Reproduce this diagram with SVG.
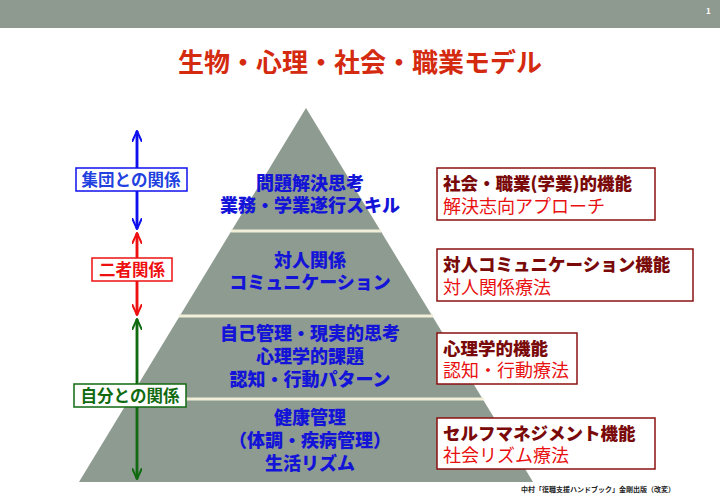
<svg xmlns="http://www.w3.org/2000/svg" width="720" height="498" viewBox="0 0 720 498">
<style>
text{font-family:"Noto Sans CJK JP","Noto Sans CJK SC",sans-serif;font-weight:bold}
.p{fill:#1414d8;font-size:18px;font-weight:900;text-anchor:middle}
.bt{fill:#7a0a0a;font-size:17.5px;font-weight:900}
.bs{fill:#e81010;font-size:18px;font-weight:normal}
.box{fill:#fff;stroke:#8b1010;stroke-width:1.5}
.div{stroke:#f2efd8;stroke-width:3}
</style>
<defs>
<marker id="ab" viewBox="0 0 12 10" refX="11" refY="5" markerWidth="12" markerHeight="10" markerUnits="userSpaceOnUse" orient="auto"><path d="M0,0 L11,5 L0,10" fill="none" stroke="#1010ee" stroke-width="2"/></marker>
<marker id="ar" viewBox="0 0 12 10" refX="11" refY="5" markerWidth="12" markerHeight="10" markerUnits="userSpaceOnUse" orient="auto"><path d="M0,0 L11,5 L0,10" fill="none" stroke="#ee1010" stroke-width="2"/></marker>
<marker id="ag" viewBox="0 0 12 10" refX="11" refY="5" markerWidth="12" markerHeight="10" markerUnits="userSpaceOnUse" orient="auto"><path d="M0,0 L11,5 L0,10" fill="none" stroke="#106a10" stroke-width="2"/></marker>
</defs>
<rect width="720" height="498" fill="#fff"/>
<rect width="720" height="28" fill="#8e9a90"/>
<text x="706" y="14" fill="#fff" font-size="8" font-weight="normal">1</text>
<text x="360" y="72" fill="#d42a10" font-size="26" font-weight="900" text-anchor="middle">生物・心理・社会・職業モデル</text>
<g id="pyramid">
<polygon points="306,108 533,482 79,482" fill="#8e9b91"/>
<line class="div" x1="231" y1="231" x2="381" y2="231"/>
<line class="div" x1="179" y1="316" x2="433" y2="316"/>
<line class="div" x1="129" y1="399" x2="484" y2="399"/>
</g>
<g id="tier1"><text class="p" x="310" y="190">問題解決思考</text><text class="p" x="310" y="212">業務・学業遂行スキル</text></g>
<g id="tier2"><text class="p" x="310" y="267">対人関係</text><text class="p" x="310" y="289">コミュニケーション</text></g>
<g id="tier3"><text class="p" x="310" y="340">自己管理・現実的思考</text><text class="p" x="310" y="363">心理学的課題</text><text class="p" x="310" y="386">認知・行動パターン</text></g>
<g id="tier4"><text class="p" x="310" y="424">健康管理</text><text class="p" x="310" y="447">（体調・疾病管理）</text><text class="p" x="310" y="470">生活リズム</text></g>
<g id="connectors" stroke-width="2.5">
<line x1="137" y1="229" x2="137" y2="131" stroke="#1010ee" marker-end="url(#ab)"/>
<line x1="137" y1="131" x2="137" y2="229" stroke="#1010ee" marker-end="url(#ab)"/>
<line x1="137" y1="315" x2="137" y2="233" stroke="#ee1010" marker-end="url(#ar)"/>
<line x1="137" y1="233" x2="137" y2="315" stroke="#ee1010" marker-end="url(#ar)"/>
<line x1="137" y1="479" x2="137" y2="319" stroke="#106a10" marker-end="url(#ag)"/>
<line x1="137" y1="319" x2="137" y2="479" stroke="#106a10" marker-end="url(#ag)"/>
</g>
<g id="lbl1"><rect x="76" y="168" width="111" height="23" fill="#fff" stroke="#1010ee" stroke-width="1.5"/><text x="131" y="186" fill="#2040e0" font-size="16.5" font-weight="900" text-anchor="middle">集団との関係</text></g>
<g id="lbl2"><rect x="92" y="258" width="80" height="23" fill="#fff" stroke="#ee1010" stroke-width="1.5"/><text x="132" y="276" fill="#ee1010" font-size="16.5" font-weight="900" text-anchor="middle">二者関係</text></g>
<g id="lbl3"><rect x="74" y="384" width="112" height="23" fill="#fff" stroke="#106a10" stroke-width="1.5"/><text x="130" y="402" fill="#106a10" font-size="16.5" font-weight="900" text-anchor="middle">自分との関係</text></g>
<g id="f1"><rect class="box" x="437" y="168" width="218" height="52"/><text class="bt" x="443" y="190">社会・職業(学業)的機能</text><text class="bs" x="443" y="213">解決志向アプローチ</text></g>
<g id="f2"><rect class="box" x="437" y="249" width="256" height="52"/><text class="bt" x="443" y="271">対人コミュニケーション機能</text><text class="bs" x="443" y="294">対人関係療法</text></g>
<g id="f3"><rect class="box" x="437" y="333" width="140" height="51"/><text class="bt" x="443" y="355">心理学的機能</text><text class="bs" x="443" y="377">認知・行動療法</text></g>
<g id="f4"><rect class="box" x="437" y="418" width="218" height="51"/><text class="bt" x="443" y="440">セルフマネジメント機能</text><text class="bs" x="443" y="462">社会リズム療法</text></g>
<text x="598" y="492" fill="#222" font-size="7" font-weight="normal" text-anchor="middle">中村「復職支援ハンドブック」金剛出版（改変）</text>
</svg>
